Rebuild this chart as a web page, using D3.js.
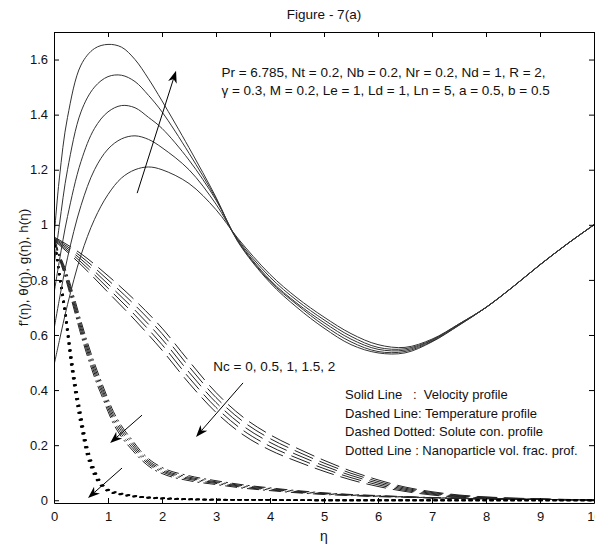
<!DOCTYPE html>
<html><head><meta charset="utf-8">
<script src="https://cdn.jsdelivr.net/npm/d3@7"></script>
<style>
body{margin:0;background:#fff}
svg{display:block}
text{font-family:"Liberation Sans",Arial,sans-serif;fill:#111;white-space:pre}
</style>
</head><body><svg id="c" width="595" height="549"></svg>
<script>
// ---------- DATA ----------
const xTicks = [0,1,2,3,4,5,6,7,8,9,10];
const yTicks = [0,0.2,0.4,0.6,0.8,1,1.2,1.4,1.6];
const yTickLabels = ["0","0.2","0.4","0.6","0.8","1","1.2","1.4","1.6"];
const ncValues = [0,0.5,1,1.5,2];

// velocity f'(eta), solid
const etaVel = [0,0.1,0.25,0.5,0.75,1,1.25,1.5,1.75,2,2.5,3,3.4,4,4.5,5,5.5,6,6.5,7,7.5,8,8.5,9,9.5,10];
const velNc0  = [0.49,0.58,0.71,0.89,1.02,1.11,1.17,1.20,1.21,1.20,1.15,1.055,0.952,0.82,0.735,0.665,0.605,0.565,0.555,0.585,0.64,0.70,0.775,0.855,0.93,1.0];
const velNc05 = [0.62,0.73,0.88,1.07,1.20,1.275,1.312,1.323,1.31,1.28,1.20,1.075,0.948,0.81,0.725,0.655,0.595,0.555,0.55,0.582,0.64,0.70,0.775,0.855,0.93,1.0];
const velNc1  = [0.75,0.87,1.03,1.23,1.35,1.41,1.433,1.425,1.39,1.35,1.235,1.09,0.945,0.80,0.715,0.645,0.585,0.548,0.545,0.58,0.638,0.70,0.775,0.855,0.93,1.0];
const velNc15 = [0.85,1.0,1.2,1.41,1.50,1.538,1.543,1.52,1.47,1.41,1.26,1.095,0.942,0.795,0.71,0.635,0.575,0.54,0.54,0.577,0.636,0.70,0.775,0.855,0.93,1.0];
const velNc2  = [0.95,1.17,1.39,1.58,1.64,1.655,1.645,1.60,1.53,1.45,1.28,1.10,0.94,0.79,0.70,0.625,0.565,0.535,0.535,0.575,0.635,0.70,0.775,0.855,0.93,1.0];

// temperature theta(eta), dashed
const etaTemp = [0,0.5,1,1.5,2,2.5,3,3.5,4,4.5,5,5.5,6,6.5,7,7.5,8,8.5,9,9.5,10];
const tempNc0  = [0.956,0.895,0.815,0.726,0.625,0.505,0.391,0.302,0.238,0.189,0.145,0.106,0.074,0.048,0.031,0.019,0.012,0.008,0.005,0.003,0.001];
const tempNc05 = [0.953,0.885,0.800,0.708,0.605,0.485,0.373,0.286,0.224,0.177,0.135,0.098,0.068,0.044,0.028,0.017,0.011,0.007,0.0045,0.0025,0.001];
const tempNc1  = [0.950,0.875,0.785,0.690,0.585,0.465,0.355,0.270,0.210,0.165,0.125,0.090,0.062,0.040,0.025,0.015,0.009,0.006,0.004,0.002,0.001];
const tempNc15 = [0.947,0.865,0.770,0.672,0.565,0.445,0.337,0.254,0.196,0.153,0.115,0.082,0.056,0.036,0.022,0.013,0.008,0.005,0.0035,0.002,0.001];
const tempNc2  = [0.944,0.855,0.755,0.654,0.545,0.425,0.319,0.238,0.182,0.141,0.105,0.074,0.050,0.032,0.019,0.011,0.007,0.0045,0.003,0.0015,0.001];

// solute concentration g(eta), dash-dotted
const etaSol = [0,0.1,0.2,0.3,0.4,0.5,0.6,0.7,0.8,0.9,1.0,1.1,1.25,1.45,1.6,1.8,2,2.5,3,3.5,4,4.5,5,5.5,6,6.5,7,7.5,8,8.5,9,9.5,10];
const solNc0  = [0.95,0.893,0.845,0.785,0.718,0.65,0.585,0.525,0.47,0.418,0.368,0.322,0.27,0.218,0.18,0.143,0.119,0.089,0.071,0.056,0.045,0.035,0.027,0.021,0.017,0.013,0.010,0.008,0.006,0.0045,0.0033,0.0022,0.0012];
const solNc05 = [0.95,0.889,0.838,0.775,0.706,0.637,0.572,0.512,0.457,0.406,0.356,0.311,0.26,0.209,0.172,0.136,0.113,0.084,0.067,0.053,0.0425,0.033,0.0255,0.02,0.016,0.0125,0.0095,0.0075,0.0055,0.0042,0.0031,0.0021,0.0011];
const solNc1  = [0.95,0.885,0.83,0.765,0.695,0.625,0.56,0.50,0.445,0.395,0.345,0.30,0.25,0.20,0.165,0.13,0.108,0.08,0.064,0.05,0.04,0.031,0.024,0.019,0.015,0.012,0.009,0.007,0.005,0.004,0.003,0.002,0.001];
const solNc15 = [0.95,0.881,0.822,0.755,0.684,0.613,0.548,0.488,0.433,0.384,0.334,0.289,0.24,0.191,0.158,0.124,0.103,0.076,0.061,0.047,0.0375,0.029,0.0225,0.018,0.014,0.0115,0.0085,0.0065,0.0045,0.0038,0.0029,0.0019,0.0009];
const solNc2  = [0.95,0.877,0.815,0.745,0.672,0.60,0.535,0.475,0.42,0.372,0.322,0.278,0.23,0.182,0.15,0.117,0.097,0.071,0.057,0.044,0.035,0.027,0.021,0.017,0.013,0.011,0.008,0.006,0.004,0.0035,0.0027,0.0018,0.0008];

// nanoparticle volume fraction h(eta), dotted
const etaNp = [0,0.05,0.1,0.15,0.2,0.25,0.3,0.35,0.4,0.5,0.6,0.7,0.8,0.9,1.0,1.2,1.4,1.6,2,2.5,3,4,5,6,8,10];
const npNc0  = [0.95,0.895,0.83,0.77,0.705,0.635,0.56,0.49,0.425,0.315,0.21,0.14,0.09,0.058,0.04,0.027,0.019,0.013,0.008,0.004,0.002,0.001,0,0,0,0];
const npNc05 = [0.95,0.892,0.825,0.762,0.697,0.625,0.547,0.477,0.412,0.302,0.2,0.132,0.085,0.055,0.038,0.025,0.018,0.0125,0.0075,0.004,0.002,0.001,0,0,0,0];
const npNc1  = [0.95,0.89,0.82,0.755,0.69,0.615,0.535,0.465,0.40,0.29,0.19,0.125,0.08,0.052,0.036,0.024,0.017,0.012,0.007,0.004,0.002,0.001,0,0,0,0];
const npNc15 = [0.95,0.888,0.815,0.748,0.683,0.605,0.523,0.453,0.388,0.278,0.18,0.118,0.075,0.049,0.034,0.023,0.016,0.0115,0.0065,0.0035,0.002,0.001,0,0,0,0];
const npNc2  = [0.95,0.885,0.81,0.74,0.675,0.595,0.51,0.44,0.375,0.265,0.17,0.11,0.07,0.046,0.032,0.022,0.015,0.011,0.006,0.003,0.0015,0.001,0,0,0,0];

// annotation arrows [eta tail, value tail, eta tip, value tip]
const arrowVel  = [1.54,1.115,2.26,1.559];
const arrowTemp = [3.50,0.426,2.63,0.230];
const arrowSol  = [1.63,0.309,1.04,0.208];
const arrowNp   = [1.26,0.117,0.63,0.008];

const titleText = "Figure - 7(a)";
const xLabel = "\u03b7";
const yLabel = "f'(\u03b7), \u03b8(\u03b7), g(\u03b7), h(\u03b7)";
const paramLines = ["Pr = 6.785, Nt = 0.2, Nb = 0.2, Nr = 0.2, Nd = 1, R = 2,",
                    "\u03b3 = 0.3, M = 0.2, Le = 1, Ld = 1, Ln = 5, a = 0.5, b = 0.5"];
const ncText = "Nc = 0, 0.5, 1, 1.5, 2";
const legendLines = ["Solid Line   :  Velocity profile",
                     "Dashed Line: Temperature profile",
                     "Dashed Dotted: Solute con. profile",
                     "Dotted Line : Nanoparticle vol. frac. prof."];

// ---------- DRAW ----------
const svg = d3.select('#c');
const x = d3.scaleLinear().domain([0,10]).range([54,594]);
const y = d3.scaleLinear().domain([-0.01,1.7]).range([503,32]);

svg.append('clipPath').attr('id','clip').append('rect')
  .attr('x',x(0)).attr('y',y(1.7)).attr('width',x(10)-x(0)).attr('height',y(-0.01)-y(1.7));

const plot = svg.append('g').attr('clip-path','url(#clip)');

function draw(etas, series, dash, width, color, curve){
  const line = d3.line().x((d,i)=>x(etas[i])).y(d=>y(d)).curve(curve);
  series.forEach(s=>{
    plot.append('path').attr('d',line(s)).attr('fill','none')
      .attr('stroke',color).attr('stroke-width',width)
      .attr('stroke-dasharray',dash);
  });
}
draw(etaTemp,[tempNc0,tempNc05,tempNc1,tempNc15,tempNc2],'20,7',1,'#222',d3.curveMonotoneX);
draw(etaSol,[solNc0,solNc05,solNc1,solNc15,solNc2],'12,4,2,4',1,'#222',d3.curveMonotoneX);
draw(etaNp,[npNc0,npNc05,npNc1,npNc15,npNc2],'2,5',1.8,'#000',d3.curveMonotoneX);
draw(etaVel,[velNc0,velNc05,velNc1,velNc15,velNc2],null,1,'#333',d3.curveCatmullRom.alpha(0.5));

// axes
const ax = svg.append('g');
ax.append('g').attr('transform',`translate(0,${y(-0.01)})`)
  .call(d3.axisBottom(x).tickValues(xTicks).tickFormat(d3.format('d')).tickSizeInner(-5).tickSizeOuter(0).tickPadding(9));
ax.append('g').attr('transform',`translate(0,${y(1.7)})`)
  .call(d3.axisTop(x).tickValues(xTicks).tickFormat('').tickSizeInner(-5).tickSizeOuter(0));
ax.append('g').attr('transform',`translate(${x(0)},0)`)
  .call(d3.axisLeft(y).tickValues(yTicks).tickFormat((d,i)=>yTickLabels[i]).tickSizeInner(-5).tickSizeOuter(0).tickPadding(6));
ax.append('g').attr('transform',`translate(${x(10)},0)`)
  .call(d3.axisRight(y).tickValues(yTicks).tickFormat('').tickSizeInner(-5).tickSizeOuter(0));
ax.selectAll('.domain').attr('stroke','#000').attr('stroke-width',1);
ax.selectAll('.tick line').attr('stroke','#000');
ax.selectAll('.tick text').attr('font-size',13).attr('font-family','"Liberation Sans",Arial,sans-serif').attr('fill','#111');

// titles
svg.append('text').attr('x',(x(0)+x(10))/2).attr('y',19).attr('text-anchor','middle')
  .attr('font-size',13.5).text(titleText);
svg.append('text').attr('x',(x(0)+x(10))/2).attr('y',541).attr('text-anchor','middle')
  .attr('font-size',14).text(xLabel);
svg.append('text').attr('transform',`translate(28,${(y(-0.01)+y(1.7))/2}) rotate(-90)`)
  .attr('text-anchor','middle').attr('font-size',13.5).text(yLabel);

// annotation texts
paramLines.forEach((t,i)=>{
  svg.append('text').attr('x',x(3.1)).attr('y',y(1.537)+i*18.5).attr('font-size',13.5).text(t);
});
svg.append('text').attr('x',x(2.95)).attr('y',y(0.468)).attr('font-size',13.5).text(ncText);
legendLines.forEach((t,i)=>{
  svg.append('text').attr('x',x(5.39)).attr('y',y(0.366)+i*18.4).attr('font-size',13).text(t);
});

// arrows
function arrow(a){
  const x1=x(a[0]), y1=y(a[1]), x2=x(a[2]), y2=y(a[3]);
  const dx=x2-x1, dy=y2-y1, L=Math.hypot(dx,dy), ux=dx/L, uy=dy/L, nx=-uy, ny=ux;
  const hl=12, hw=4.5, notch=3.5;
  svg.append('line').attr('x1',x1).attr('y1',y1).attr('x2',x2-ux*(hl-notch)).attr('y2',y2-uy*(hl-notch))
    .attr('stroke','#000').attr('stroke-width',1);
  const pts=[[x2,y2],[x2-ux*hl+nx*hw,y2-uy*hl+ny*hw],[x2-ux*(hl-notch),y2-uy*(hl-notch)],[x2-ux*hl-nx*hw,y2-uy*hl-ny*hw]];
  svg.append('path').attr('d','M'+pts.map(p=>p.join(',')).join('L')+'Z').attr('fill','#000');
}
[arrowVel,arrowTemp,arrowSol,arrowNp].forEach(arrow);
</script></body></html>
